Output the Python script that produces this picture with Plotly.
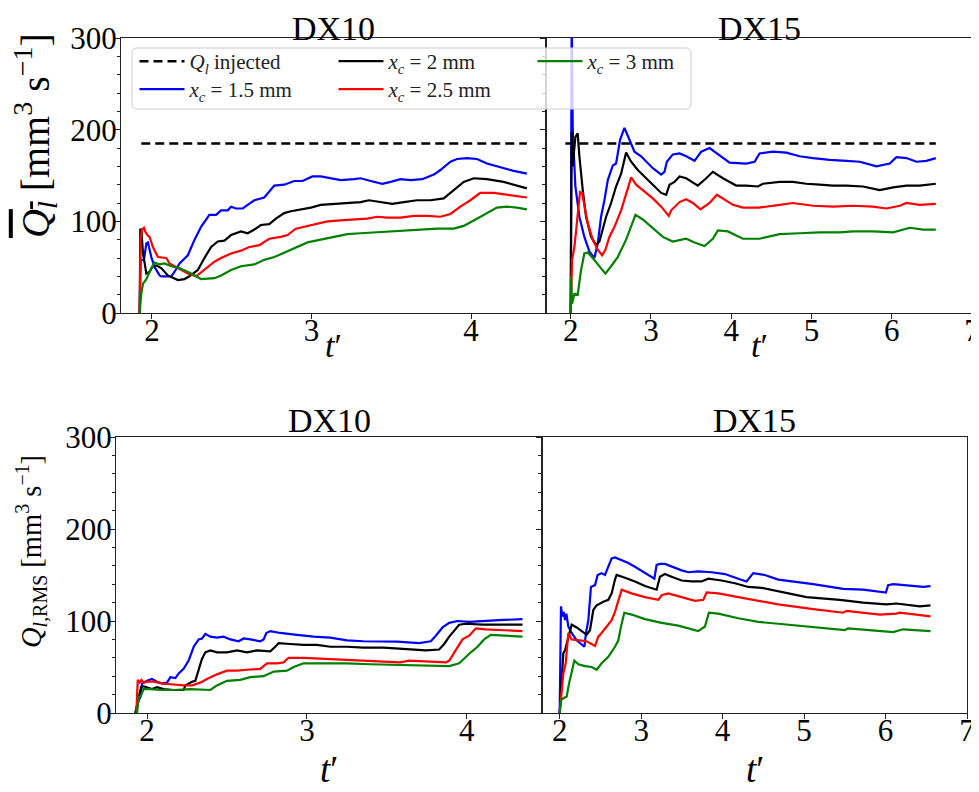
import plotly.graph_objects as go

# ---------------- data ----------------
q_injected = 185

# DX10 mean (top-left)
t10m_b = [1.923, 1.929, 1.95, 1.965, 1.975, 1.996, 2.017, 2.048, 2.058, 2.121, 2.142, 2.173, 2.225, 2.267, 2.308, 2.36, 2.402, 2.433, 2.475, 2.496, 2.527, 2.569, 2.6, 2.642, 2.704, 2.735, 2.767, 2.829, 2.892, 2.944, 3.006, 3.058, 3.121, 3.183, 3.267, 3.308, 3.371, 3.444, 3.496, 3.558, 3.621, 3.694, 3.767, 3.808, 3.871, 3.9125, 3.975, 4.0375, 4.1, 4.183, 4.267, 4.35]
q10m_b = [0, 58, 58, 76, 77, 61, 50, 41, 40, 40, 45, 54, 63, 80, 94, 107, 107, 112, 112, 116, 114, 114, 118, 123, 126, 132, 139, 140, 144, 144, 149, 149, 147, 145, 146, 147, 144, 141, 143, 146, 145, 146, 151, 156, 165, 168, 169, 168, 163, 159, 155, 152]
t10m_k = [1.923, 1.927, 1.933, 1.944, 1.965, 1.985, 2.006, 2.027, 2.058, 2.1, 2.1625, 2.204, 2.235, 2.2875, 2.329, 2.371, 2.4125, 2.454, 2.496, 2.558, 2.6, 2.642, 2.683, 2.735, 2.777, 2.829, 2.871, 2.933, 2.996, 3.058, 3.142, 3.225, 3.308, 3.36, 3.433, 3.506, 3.579, 3.6625, 3.746, 3.829, 3.892, 3.954, 4.017, 4.1, 4.204, 4.35]
q10m_k = [0, 91, 91, 65, 43, 45, 51, 52, 49, 41, 36, 37, 40, 47, 60, 72, 78, 79, 85, 89, 87, 91, 96, 97, 103, 109, 111, 113, 115, 118, 119, 120, 121, 123, 121, 119, 121, 123, 123, 125, 134, 143, 147, 146, 143, 136]
t10m_r = [1.923, 1.929, 1.9375, 1.95, 1.958, 1.971, 1.985, 2.006, 2.0375, 2.069, 2.09, 2.11, 2.1625, 2.225, 2.277, 2.329, 2.392, 2.433, 2.496, 2.558, 2.61, 2.673, 2.735, 2.808, 2.85, 2.902, 2.975, 3.0375, 3.1, 3.183, 3.267, 3.35, 3.4125, 3.475, 3.558, 3.642, 3.725, 3.808, 3.871, 3.933, 3.996, 4.058, 4.142, 4.225, 4.35]
q10m_r = [0, 80, 91, 93, 89, 85, 83, 72, 61, 60, 60, 54, 49, 43, 40, 47, 56, 60, 65, 68, 72, 74, 81, 83, 85, 92, 95, 97, 100, 101, 102, 103, 105, 104, 104, 106, 106, 105, 108, 116, 123, 131, 131, 129, 126]
t10m_g = [1.923, 1.933, 1.944, 1.965, 1.996, 2.017, 2.048, 2.079, 2.121, 2.173, 2.246, 2.308, 2.392, 2.433, 2.496, 2.558, 2.642, 2.704, 2.767, 2.829, 2.892, 2.975, 3.058, 3.142, 3.225, 3.308, 3.392, 3.475, 3.579, 3.683, 3.7875, 3.892, 3.954, 4.017, 4.079, 4.1625, 4.225, 4.2875, 4.35]
q10m_g = [0, 21, 32, 37, 49, 55, 53, 54, 51, 49, 43, 37, 38, 41, 47, 51, 53, 58, 61, 66, 71, 77, 80, 83, 86, 87, 88, 89, 90, 91, 92, 92, 95, 101, 107, 115, 116, 115, 113]
t10_inj = [1.933, 4.35]

# DX15 mean (top-right)
t15m_b = [2.0, 2.004, 2.012, 2.025, 2.058, 2.108, 2.17, 2.233, 2.295, 2.337, 2.378, 2.42, 2.462, 2.524, 2.565, 2.615, 2.669, 2.732, 2.794, 2.877, 2.94, 3.023, 3.127, 3.168, 3.198, 3.272, 3.356, 3.439, 3.543, 3.626, 3.73, 3.854, 3.979, 4.187, 4.291, 4.353, 4.52, 4.686, 4.852, 5.019, 5.227, 5.435, 5.601, 5.809, 5.975, 6.058, 6.183, 6.308, 6.432, 6.549]
q15m_b = [0, 330, 330, 200, 138, 105, 83, 67, 60, 76, 105, 123, 145, 161, 163, 189, 202, 189, 176, 171, 165, 158, 151, 154, 165, 173, 174, 171, 166, 176, 180, 172, 164, 163, 165, 174, 176, 175, 171, 169, 167, 166, 165, 160, 163, 170, 169, 165, 166, 169]
t15m_k = [2.0, 2.004, 2.012, 2.025, 2.058, 2.087, 2.108, 2.15, 2.191, 2.254, 2.316, 2.358, 2.399, 2.441, 2.503, 2.565, 2.628, 2.69, 2.753, 2.836, 2.94, 3.023, 3.127, 3.189, 3.231, 3.293, 3.356, 3.439, 3.584, 3.688, 3.771, 3.896, 4.062, 4.187, 4.333, 4.395, 4.603, 4.769, 4.936, 5.102, 5.268, 5.435, 5.642, 5.85, 6.017, 6.183, 6.349, 6.549]
q15m_k = [0, 40, 198, 160, 192, 196, 171, 134, 105, 83, 74, 78, 91, 105, 120, 138, 152, 175, 165, 156, 147, 140, 131, 129, 140, 143, 149, 147, 139, 147, 154, 147, 139, 139, 138, 141, 143, 143, 141, 140, 139, 139, 138, 134, 137, 139, 139, 141]
t15m_r = [2.0, 2.017, 2.046, 2.087, 2.116, 2.141, 2.17, 2.212, 2.274, 2.337, 2.391, 2.432, 2.482, 2.545, 2.628, 2.69, 2.753, 2.815, 2.898, 3.023, 3.127, 3.222, 3.252, 3.356, 3.439, 3.522, 3.617, 3.73, 3.821, 3.896, 4.021, 4.146, 4.353, 4.603, 4.769, 5.019, 5.268, 5.518, 5.767, 5.933, 6.1, 6.183, 6.349, 6.549]
q15m_r = [0, 58, 72, 112, 132, 131, 116, 98, 80, 69, 63, 69, 83, 94, 112, 131, 148, 140, 134, 125, 116, 106, 112, 121, 124, 120, 113, 120, 129, 125, 118, 115, 115, 118, 120, 117, 116, 117, 116, 114, 117, 120, 118, 119]
t15m_g = [2.0, 2.004, 2.017, 2.046, 2.087, 2.129, 2.17, 2.212, 2.274, 2.358, 2.432, 2.503, 2.586, 2.69, 2.753, 2.807, 2.898, 3.023, 3.148, 3.272, 3.439, 3.543, 3.667, 3.771, 3.834, 3.958, 4.146, 4.353, 4.603, 4.852, 5.102, 5.351, 5.518, 5.767, 6.017, 6.225, 6.391, 6.549]
q15m_g = [0, 40, 10, 21, 20, 47, 65, 66, 60, 51, 43, 51, 61, 80, 94, 107, 102, 92, 83, 78, 81, 77, 73, 81, 90, 89, 81, 81, 86, 87, 88, 88, 89, 89, 88, 93, 91, 91]
t15_inj = [1.933, 6.549]

# DX10 RMS (bottom-left)
t10r_b = [1.927, 1.948, 1.958, 1.969, 2.0, 2.031, 2.0625, 2.094, 2.125, 2.146, 2.177, 2.198, 2.229, 2.26, 2.292, 2.323, 2.344, 2.365, 2.396, 2.4375, 2.479, 2.521, 2.573, 2.604, 2.646, 2.708, 2.729, 2.746, 2.771, 2.833, 2.9375, 3.042, 3.146, 3.25, 3.354, 3.458, 3.5625, 3.702, 3.775, 3.806, 3.848, 3.89, 3.942, 4.015, 4.098, 4.202, 4.348]
q10r_b = [0, 14, 17, 32, 35, 37, 34, 32, 33, 39, 38, 43, 48, 57, 72, 80, 81, 86, 83, 82, 83, 80, 78, 81, 80, 78, 80, 87, 89, 87, 85, 83, 82, 79, 78, 78, 77.5, 76, 78, 84, 93, 98, 100, 99, 100, 101, 102]
t10r_k = [1.927, 1.948, 1.9625, 1.979, 2.0, 2.031, 2.0625, 2.104, 2.167, 2.229, 2.24, 2.281, 2.302, 2.323, 2.344, 2.365, 2.396, 2.4375, 2.5, 2.5625, 2.625, 2.6875, 2.771, 2.802, 2.823, 2.896, 2.979, 3.0625, 3.146, 3.25, 3.354, 3.479, 3.583, 3.744, 3.827, 3.858, 3.89, 3.921, 3.952, 3.994, 4.098, 4.202, 4.348]
q10r_k = [0, 17, 28, 29, 28, 26, 28, 26, 25, 25, 30, 34, 35, 46, 59, 66, 68, 66, 66, 68, 66, 68, 67, 72, 76, 75, 74, 74, 72, 72, 71, 71, 70, 68, 69, 75, 83, 90, 96, 97, 96, 96, 96]
t10r_r = [1.933, 1.942, 1.954, 1.965, 1.979, 2.0, 2.042, 2.104, 2.167, 2.229, 2.281, 2.333, 2.375, 2.4375, 2.5, 2.5625, 2.625, 2.708, 2.75, 2.8125, 2.854, 2.885, 2.979, 3.104, 3.25, 3.396, 3.583, 3.64, 3.869, 3.89, 3.931, 3.973, 4.015, 4.056, 4.119, 4.202, 4.348]
q10r_r = [0, 36, 33, 36, 33, 34, 34, 32, 31, 30, 30, 33, 37, 42, 46, 46, 47, 48, 54, 54, 55, 60, 60, 59, 58, 57, 55, 57, 55, 57, 68, 80, 84, 92, 91, 90, 89]
t10r_g = [1.9375, 1.948, 1.9625, 1.979, 2.021, 2.083, 2.167, 2.271, 2.396, 2.4375, 2.5, 2.583, 2.646, 2.729, 2.792, 2.875, 2.917, 2.979, 3.104, 3.25, 3.396, 3.583, 3.785, 3.89, 3.952, 3.994, 4.025, 4.067, 4.108, 4.15, 4.223, 4.348]
q10r_g = [0, 17, 19, 26, 26, 25, 25, 26, 25, 30, 35, 36, 39, 40, 45, 46, 50, 54, 54, 54, 53, 52, 51, 51, 54, 61, 66, 72, 80, 85, 84, 83]

# DX15 RMS (bottom-right)
t15r_b = [2.0, 2.016, 2.033, 2.049, 2.065, 2.082, 2.106, 2.147, 2.209, 2.27, 2.303, 2.323, 2.352, 2.384, 2.434, 2.466, 2.515, 2.556, 2.597, 2.638, 2.679, 2.761, 2.843, 2.924, 3.047, 3.162, 3.19, 3.231, 3.292, 3.374, 3.497, 3.579, 3.701, 3.865, 4.029, 4.192, 4.294, 4.376, 4.519, 4.683, 4.867, 5.112, 5.48, 5.726, 6.004, 6.032, 6.094, 6.257, 6.462, 6.552]
q15r_b = [0, 116, 105, 110, 101, 108, 94, 87, 79, 74, 72, 87, 101, 137, 139, 150, 152, 150, 159, 168, 169, 166, 163, 159, 152, 146, 161, 162, 162, 159, 155, 153, 154, 153, 151, 146, 143, 152, 150, 145, 143, 140, 135, 134, 131, 139, 140, 139, 137, 138]
t15r_k = [2.0, 2.016, 2.045, 2.065, 2.106, 2.147, 2.209, 2.27, 2.331, 2.372, 2.413, 2.454, 2.495, 2.536, 2.597, 2.638, 2.679, 2.699, 2.802, 2.924, 3.047, 3.19, 3.231, 3.292, 3.374, 3.497, 3.62, 3.742, 3.824, 3.988, 4.151, 4.315, 4.479, 4.683, 5.03, 5.439, 5.726, 6.012, 6.134, 6.421, 6.552]
q15r_k = [0, 29, 65, 68, 83, 96, 93, 89, 85, 90, 112, 117, 119, 121, 123, 130, 145, 150, 147, 143, 138, 134, 148, 151, 148, 144, 143, 143, 146, 144, 141, 137, 136, 132, 126, 123, 120, 118, 119, 116, 117]
t15r_r = [2.0, 2.025, 2.045, 2.074, 2.106, 2.147, 2.229, 2.331, 2.434, 2.474, 2.515, 2.577, 2.638, 2.679, 2.72, 2.761, 2.883, 3.047, 3.211, 3.252, 3.333, 3.497, 3.661, 3.763, 3.804, 3.947, 4.192, 4.438, 4.683, 5.112, 5.48, 5.521, 5.93, 6.134, 6.175, 6.552]
q15r_r = [0, 21, 43, 54, 87, 80, 79, 78, 73, 83, 87, 94, 101, 110, 123, 134, 130, 126, 123, 128, 130, 126, 122, 123, 131, 130, 126, 122, 118, 113, 109, 111, 107, 108, 109, 105]
t15r_g = [2.0, 2.016, 2.045, 2.086, 2.115, 2.147, 2.18, 2.229, 2.311, 2.393, 2.454, 2.515, 2.597, 2.679, 2.72, 2.753, 2.793, 2.883, 3.047, 3.252, 3.456, 3.701, 3.783, 3.832, 3.947, 4.192, 4.438, 4.683, 5.112, 5.501, 5.541, 5.848, 6.094, 6.216, 6.552]
q15r_g = [0, 14, 16, 18, 32, 43, 57, 53, 51, 50, 47, 54, 61, 72, 79, 94, 109, 107, 102, 98, 95, 89, 94, 109, 108, 103, 99, 97, 93, 90, 92, 89.5, 88, 91, 89]

series_names = ["<i>x</i><sub><i>c</i></sub> = 1.5 mm", "<i>x</i><sub><i>c</i></sub> = 2 mm",
                "<i>x</i><sub><i>c</i></sub> = 2.5 mm", "<i>x</i><sub><i>c</i></sub> = 3 mm"]
injected_name = "<i>Q</i><sub><i>l</i></sub> injected"
panel_titles = ["DX10", "DX15", "DX10", "DX15"]
x_ticks_10 = [2, 3, 4]
x_ticks_15 = [2, 3, 4, 5, 6, 7]
y_ticks = [0, 100, 200, 300]

# ---------------- styling / layout ----------------
W, H = 979, 792
OFF = 8  # page body margin: the plot div starts 8 px right/down of the window corner
FONT = "Liberation Serif"
colors = ["#0000ff", "#000000", "#ff0000", "#008000"]
legend_of = ["legend2", "legend", "legend2", "legend"]

def px(x):
    return (x - OFF) / W

def py(y):
    return 1 - (y - OFF) / H

fig = go.Figure()

panels = [
    ("x", "y", [(t10m_b, q10m_b), (t10m_k, q10m_k), (t10m_r, q10m_r), (t10m_g, q10m_g)], t10_inj, True),
    ("x2", "y2", [(t15m_b, q15m_b), (t15m_k, q15m_k), (t15m_r, q15m_r), (t15m_g, q15m_g)], t15_inj, False),
    ("x3", "y3", [(t10r_b, q10r_b), (t10r_k, q10r_k), (t10r_r, q10r_r), (t10r_g, q10r_g)], None, False),
    ("x4", "y4", [(t15r_b, q15r_b), (t15r_k, q15r_k), (t15r_r, q15r_r), (t15r_g, q15r_g)], None, False),
]

for xa, ya, series, tinj, show in panels:
    if tinj is not None:
        fig.add_trace(go.Scatter(x=tinj, y=[q_injected] * len(tinj), mode="lines",
                                 line=dict(color="black", width=2.5, dash="9px,5px"),
                                 name=injected_name, showlegend=show, legend="legend",
                                 xaxis=xa, yaxis=ya, hoverinfo="skip"))
    for i, (tt, qq) in enumerate(series):
        fig.add_trace(go.Scatter(x=tt, y=qq, mode="lines",
                                 line=dict(color=colors[i], width=2.2),
                                 name=series_names[i], showlegend=show, legend=legend_of[i],
                                 xaxis=xa, yaxis=ya, hoverinfo="skip"))

tickfont = dict(family=FONT, size=31, color="black")
common_x = dict(showgrid=False, zeroline=False, showline=True, linecolor="#222", linewidth=1,
                mirror=True, ticks="outside", ticklen=5, tickwidth=1, tickcolor="#222",
                tickfont=tickfont, tickmode="array", automargin=False, ticklabelstandoff=-15)
common_y = dict(showgrid=False, zeroline=False, showline=True, linecolor="#222", linewidth=1,
                mirror=True, ticks="outside", ticklen=5, tickwidth=1, tickcolor="#222",
                tickfont=tickfont, range=[0, 300], tickmode="array", tickvals=y_ticks,
                automargin=False, ticklabelstandoff=-8,
                minor=dict(dtick=20, ticks="outside", ticklen=3, tickcolor="#222", showgrid=False))

top = [py(313), py(38)]
bot = [py(713), py(437)]

leg_common = dict(orientation="h", xanchor="left", yanchor="top",
                  entrywidth=139, entrywidthmode="pixels", itemwidth=45,
                  bgcolor="rgba(0,0,0,0)", borderwidth=0,
                  font=dict(family=FONT, size=21, color="#222"))

fig.update_layout(
    width=W, height=H, margin=dict(l=0, r=0, t=0, b=0, autoexpand=False),
    paper_bgcolor="white", plot_bgcolor="white",
    xaxis=dict(common_x, domain=[px(121), px(546)], range=[1.806, 4.47], tickvals=x_ticks_10, anchor="y"),
    xaxis2=dict(common_x, domain=[px(546), px(972)], range=[1.692, 7.0], tickvals=x_ticks_15, anchor="y2"),
    xaxis3=dict(common_x, domain=[px(116), px(542)], range=[1.806, 4.47], tickvals=x_ticks_10, anchor="y3"),
    xaxis4=dict(common_x, domain=[px(542), px(967)], range=[1.783, 7.0], tickvals=x_ticks_15, anchor="y4"),
    yaxis=dict(common_y, domain=top, anchor="x"),
    yaxis2=dict(common_y, domain=top, anchor="x2", showticklabels=False),
    yaxis3=dict(common_y, domain=bot, anchor="x3"),
    yaxis4=dict(common_y, domain=bot, anchor="x4", showticklabels=False),
    legend=dict(leg_common, x=px(134.5), y=py(41)),
    legend2=dict(leg_common, x=px(134.5), y=py(69)),
    showlegend=True,
)

# legend frame (rounded, semi-transparent like matplotlib's legend box)
x0, x1, y0, y1, r = 132, 691, 48, 109, 5
pts = (f"M {px(x0 + r)},{py(y0)} L {px(x1 - r)},{py(y0)} Q {px(x1)},{py(y0)} {px(x1)},{py(y0 + r)} "
       f"L {px(x1)},{py(y1 - r)} Q {px(x1)},{py(y1)} {px(x1 - r)},{py(y1)} "
       f"L {px(x0 + r)},{py(y1)} Q {px(x0)},{py(y1)} {px(x0)},{py(y1 - r)} "
       f"L {px(x0)},{py(y0 + r)} Q {px(x0)},{py(y0)} {px(x0 + r)},{py(y0)} Z")
fig.add_shape(type="path", path=pts, xref="paper", yref="paper", layer="above",
              fillcolor="rgba(255,255,255,0.8)", line=dict(color="#cccccc", width=1))

annos = []
# panel titles (top ones flush with the top edge of the figure)
for txt, cx, yy, ya in zip(panel_titles, [333.5, 759, 329, 754.5],
                           [1.0, 1.0, py(420), py(420)], ["top", "top", "middle", "middle"]):
    annos.append(dict(text=txt, x=px(cx), y=yy, xref="paper", yref="paper",
                      xanchor="center", yanchor=ya, showarrow=False,
                      font=dict(family=FONT, size=34, color="black")))
# x titles
for cx, cy, fs in [(333.5, 346, 34), (759, 346, 34), (329, 769, 37), (754.5, 769, 37)]:
    annos.append(dict(text="<i>t</i>′", x=px(cx), y=py(cy), xref="paper", yref="paper",
                      xanchor="center", yanchor="middle", showarrow=False,
                      font=dict(family=FONT, size=fs, color="black")))
# y titles
annos.append(dict(text='<span style="text-decoration:overline"><i>Q</i><sub><i>l</i></sub></span> [mm<sup>3</sup> s<sup>−1</sup>]',
                  x=px(35), y=py(136), xref="paper", yref="paper", textangle=-90,
                  xanchor="center", yanchor="middle", showarrow=False,
                  font=dict(family=FONT, size=40, color="black")))
annos.append(dict(text="<i>Q</i><sub><i>l</i>,RMS</sub> [mm<sup>3</sup> s<sup>−1</sup>]",
                  x=px(31), y=py(552), xref="paper", yref="paper", textangle=-90,
                  xanchor="center", yanchor="middle", showarrow=False,
                  font=dict(family=FONT, size=28.5, color="black")))
fig.update_layout(annotations=annos)

fig.write_html("out.html")
